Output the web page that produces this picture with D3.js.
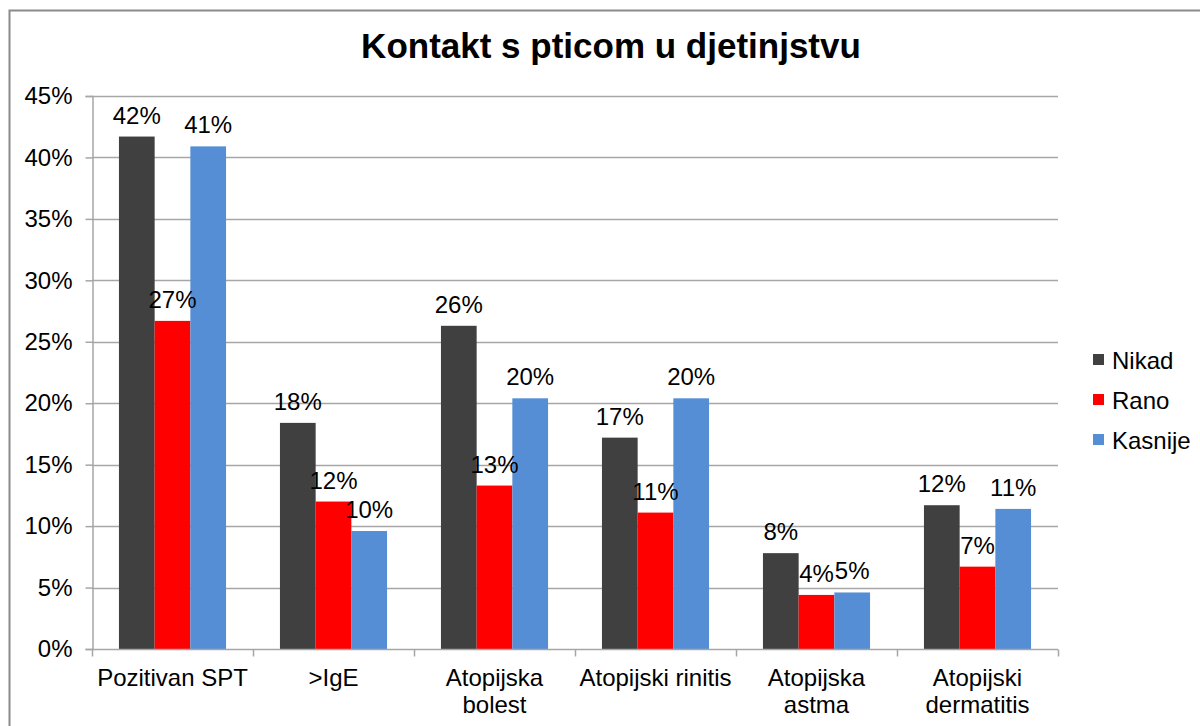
<!DOCTYPE html>
<html>
<head>
<meta charset="utf-8">
<script src="https://cdn.jsdelivr.net/npm/d3@7"></script>
<style>
  html, body { margin: 0; padding: 0; background: #fff; }
  svg { display: block; font-family: "Liberation Sans", Arial, sans-serif; }
</style>
</head>
<body>
<div id="chart"></div>
<script>
// ── Data ─────────────────────────────────────────────────────
const categories = [
  ['Pozitivan SPT'],
  ['>IgE'],
  ['Atopijska', 'bolest'],
  ['Atopijski rinitis'],
  ['Atopijska', 'astma'],
  ['Atopijski', 'dermatitis'],
];
const seriesNames = ['Nikad', 'Rano', 'Kasnije'];
const nikad   = [41.7, 18.4, 26.3, 17.2, 7.8, 11.7];
const rano    = [26.7, 12.0, 13.3, 11.1, 4.4, 6.7];
const kasnije = [40.9, 9.6, 20.4, 20.4, 4.6, 11.4];
const yTicks  = [0, 5, 10, 15, 20, 25, 30, 35, 40, 45];

const COLORS = { Nikad: '#404040', Rano: '#ff0000', Kasnije: '#558ed5' };

const width = 1200, height = 726;
const margin = { top: 96, right: 142, bottom: 77, left: 92 };

const svg = d3.select('#chart').append('svg')
  .attr('width', width).attr('height', height);

// outer frame (right/bottom edges fall outside the picture)
svg.append('rect')
  .attr('x', 9.5).attr('y', 10.5)
  .attr('width', 1300).attr('height', 900)
  .attr('fill', 'none').attr('stroke', '#8a8a8a').attr('stroke-width', 2);

svg.append('text')
  .attr('x', 611).attr('y', 58)
  .attr('text-anchor', 'middle')
  .attr('font-size', 35).attr('font-weight', 'bold')
  .attr('fill', '#000')
  .text('Kontakt s pticom u djetinjstvu');

// ── Scales ───────────────────────────────────────────────────
const keys = categories.map((c, i) => i);
const x0 = d3.scaleBand().domain(keys)
  .range([margin.left, width - margin.right]);
const x1 = d3.scaleBand().domain(seriesNames)
  .range([0, x0.bandwidth()]).paddingOuter(0.755).paddingInner(0);
const y = d3.scaleLinear().domain([0, 45])
  .range([height - margin.bottom, margin.top]);

const values = { Nikad: nikad, Rano: rano, Kasnije: kasnije };
const rows = keys.map(i => ({ i, vals: seriesNames.map(s => ({ s, v: values[s][i] })) }));

// ── Grid + y axis ────────────────────────────────────────────
const x0Left = margin.left, x0Right = width - margin.right;
svg.append('g')
  .selectAll('line').data(yTicks.slice(1)).join('line')
  .attr('x1', x0Left).attr('x2', x0Right)
  .attr('y1', d => Math.round(y(d)) + 0.5).attr('y2', d => Math.round(y(d)) + 0.5)
  .attr('stroke', '#a6a6a6').attr('stroke-width', 1.5);

const yAxis = svg.append('g')
  .attr('transform', `translate(${x0Left + 0.5},0)`)
  .call(d3.axisLeft(y).tickValues(yTicks).tickSize(7).tickPadding(13)
    .tickFormat(d => d + '%'));
yAxis.select('.domain').attr('stroke', '#a6a6a6').attr('stroke-width', 1.5);
yAxis.selectAll('.tick line').attr('stroke', '#a6a6a6').attr('stroke-width', 1.5);
yAxis.selectAll('.tick text')
  .attr('font-size', 24).attr('fill', '#000')
  .attr('font-family', '"Liberation Sans", Arial, sans-serif');

// ── Bars ─────────────────────────────────────────────────────
const groups = svg.append('g').selectAll('g').data(rows).join('g')
  .attr('transform', d => `translate(${x0(d.i)},0)`);

groups.selectAll('rect').data(d => d.vals).join('rect')
  .attr('x', d => x1(d.s))
  .attr('y', d => y(d.v))
  .attr('width', x1.bandwidth())
  .attr('height', d => y(0) - y(d.v))
  .attr('fill', d => COLORS[d.s]);

groups.selectAll('text').data(d => d.vals).join('text')
  .attr('x', d => x1(d.s) + x1.bandwidth() / 2)
  .attr('y', d => y(d.v) - 13)
  .attr('text-anchor', 'middle')
  .attr('font-size', 24).attr('fill', '#000')
  .text(d => Math.round(d.v) + '%');

// ── X axis ───────────────────────────────────────────────────
const base = Math.round(y(0)) + 0.5;
svg.append('line')
  .attr('x1', x0Left).attr('x2', x0Right)
  .attr('y1', base).attr('y2', base)
  .attr('stroke', '#a6a6a6').attr('stroke-width', 1.5);

const bounds = keys.map(i => x0(i)).concat([x0Right]);
svg.append('g').selectAll('line').data(bounds).join('line')
  .attr('x1', d => Math.round(d) + 0.5).attr('x2', d => Math.round(d) + 0.5)
  .attr('y1', base).attr('y2', base + 7)
  .attr('stroke', '#a6a6a6').attr('stroke-width', 1.5);

const catLabels = svg.append('g').selectAll('text').data(rows).join('text')
  .attr('x', d => x0(d.i) + x0.bandwidth() / 2)
  .attr('y', 686)
  .attr('text-anchor', 'middle')
  .attr('font-size', 24).attr('fill', '#000');
catLabels.selectAll('tspan').data(d => categories[d.i]).join('tspan')
  .attr('x', function() { return this.parentNode.getAttribute('x'); })
  .attr('dy', (d, j) => j === 0 ? 0 : 27)
  .text(d => d);

// ── Legend ───────────────────────────────────────────────────
const legend = svg.append('g').selectAll('g').data(seriesNames).join('g')
  .attr('transform', (d, i) => `translate(1093, ${369 + i * 40})`);
legend.append('rect')
  .attr('x', 0).attr('y', -15).attr('width', 11).attr('height', 11)
  .attr('fill', d => COLORS[d]);
legend.append('text')
  .attr('x', 19).attr('y', 0)
  .attr('font-size', 24).attr('fill', '#000')
  .text(d => d);
</script>
</body>
</html>
